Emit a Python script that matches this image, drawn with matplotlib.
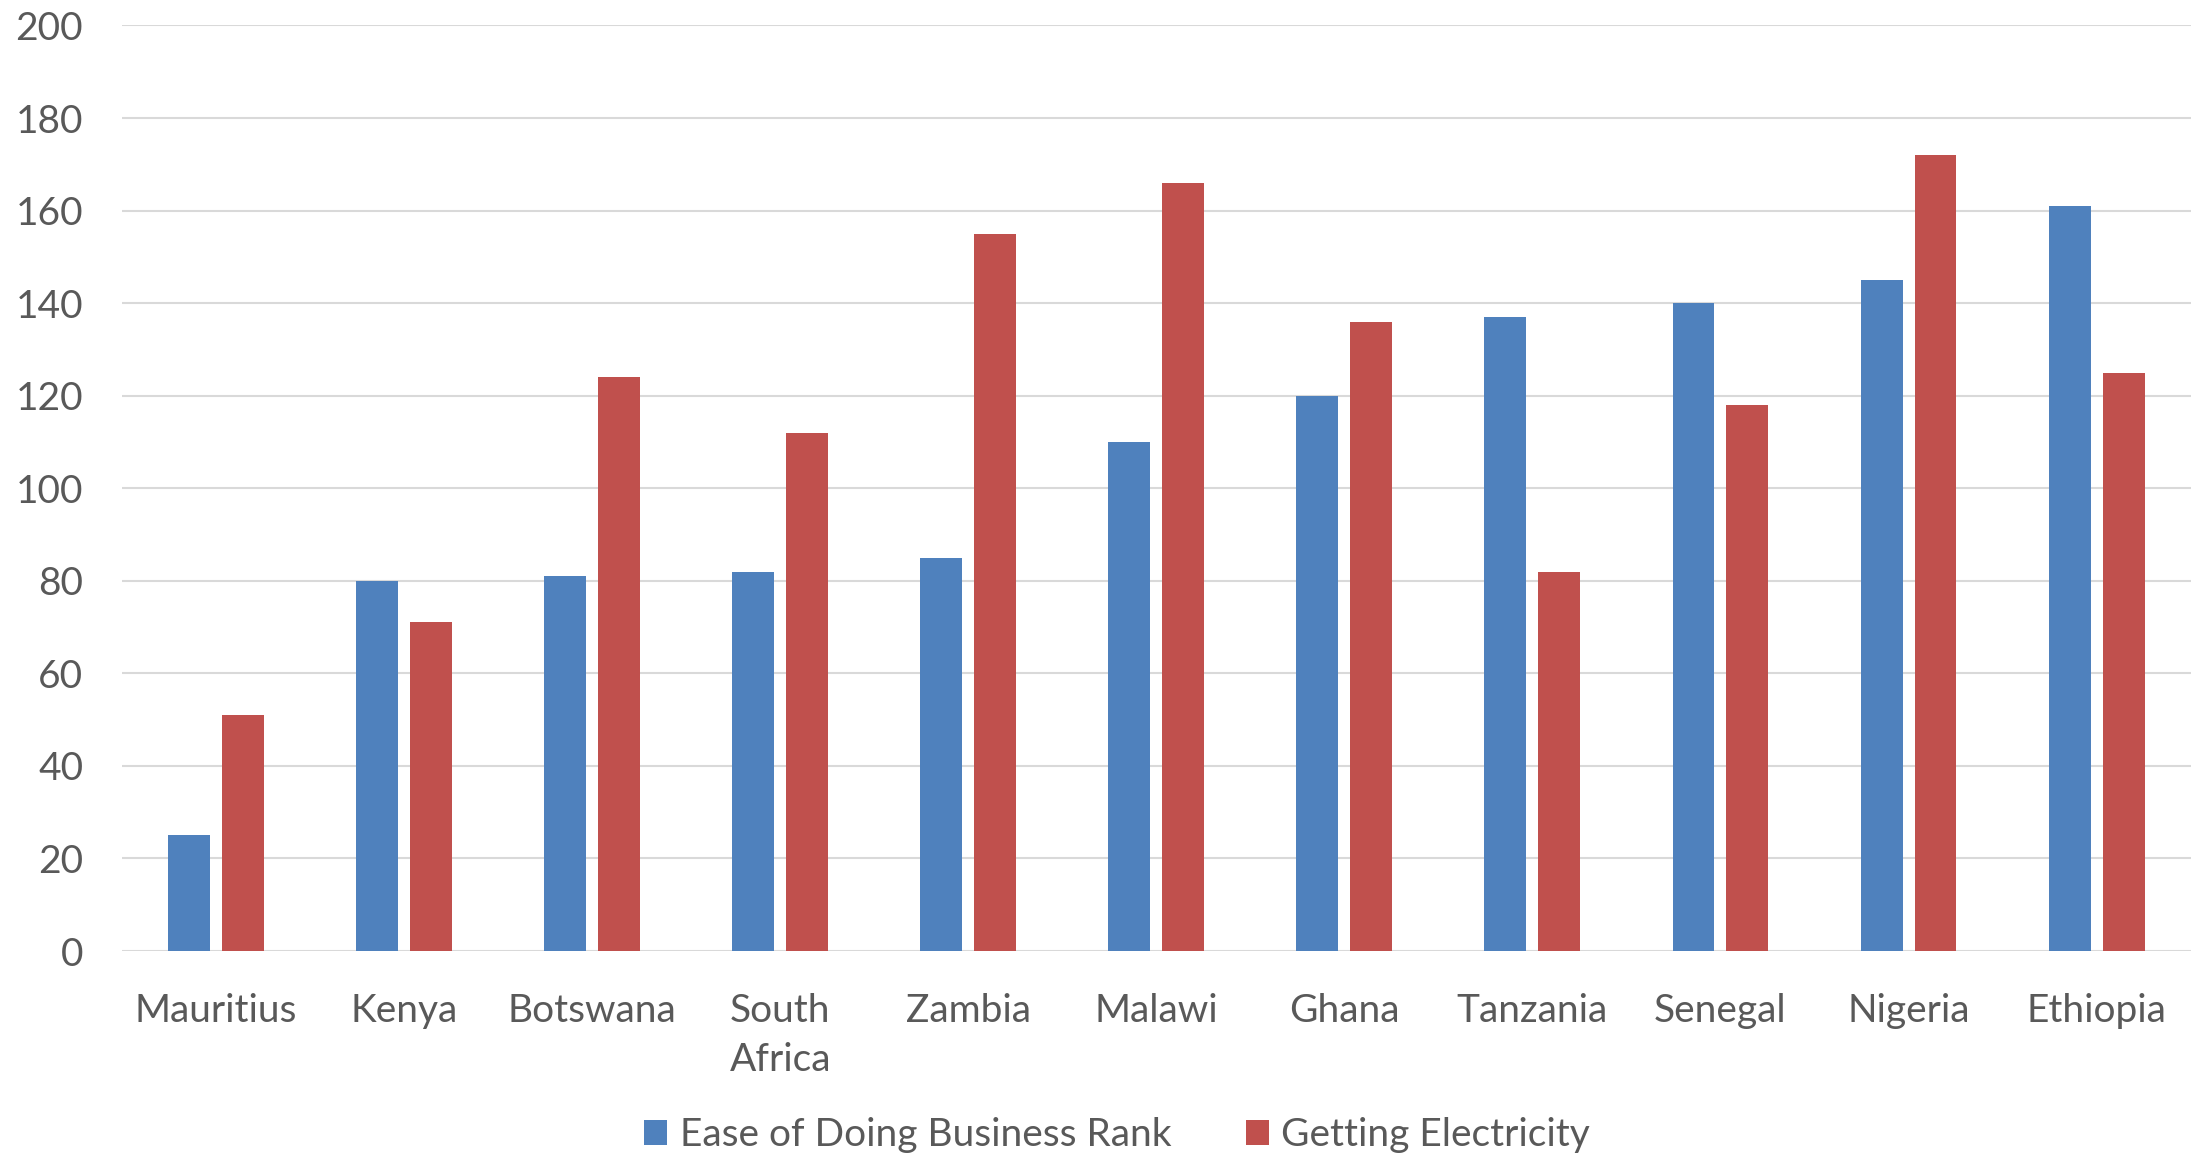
import matplotlib
matplotlib.use('Agg')
import matplotlib.pyplot as plt
import numpy as np

countries = ['Mauritius', 'Kenya', 'Botswana', 'South\nAfrica', 'Zambia', 'Malawi',
             'Ghana', 'Tanzania', 'Senegal', 'Nigeria', 'Ethiopia']
ease_rank = [25, 80, 81, 82, 85, 110, 120, 137, 140, 145, 161]
electricity = [51, 71, 124, 112, 155, 166, 136, 82, 118, 172, 125]
y_ticks = [0, 20, 40, 60, 80, 100, 120, 140, 160, 180, 200]

blue = '#4F81BD'
red = '#C0504D'
text_col = '#595959'
grid_col = '#D9D9D9'

plt.rcParams['font.family'] = ['Lato', 'DejaVu Sans']

fig = plt.figure(figsize=(21.95, 11.57), dpi=100)
ax = fig.add_axes([0.0556, 0.178, 0.9424, 0.8])

x = np.arange(len(countries))
w = 0.223
gap = 0.064
ax.bar(x - (w + gap) / 2, ease_rank, w, color=blue, label='Ease of Doing Business Rank', zorder=3)
ax.bar(x + (w + gap) / 2, electricity, w, color=red, label='Getting Electricity', zorder=3)

ax.set_xlim(-0.5, len(countries) - 0.5)
ax.set_ylim(0, 200)
ax.set_yticks(y_ticks)
ax.set_xticks(x)
ax.set_xticklabels(countries, linespacing=1.45)
ax.yaxis.grid(True, color=grid_col, linewidth=1.5, zorder=0)
ax.set_axisbelow(True)
for s in ax.spines.values():
    s.set_visible(False)
ax.tick_params(axis='both', length=0, labelsize=28, colors=text_col)
ax.tick_params(axis='x', pad=30)
ax.tick_params(axis='y', pad=28)

# legend sits close to the bottom edge
fig.legend(loc='center', bbox_to_anchor=(0.509, 0.019), ncol=2, frameon=False,
           fontsize=28, labelcolor=text_col, handlelength=0.59, handleheight=0.62,
           handletextpad=0.33, columnspacing=1.9, borderpad=0, borderaxespad=0)

fig.savefig('out.png', dpi=100, facecolor='white')
